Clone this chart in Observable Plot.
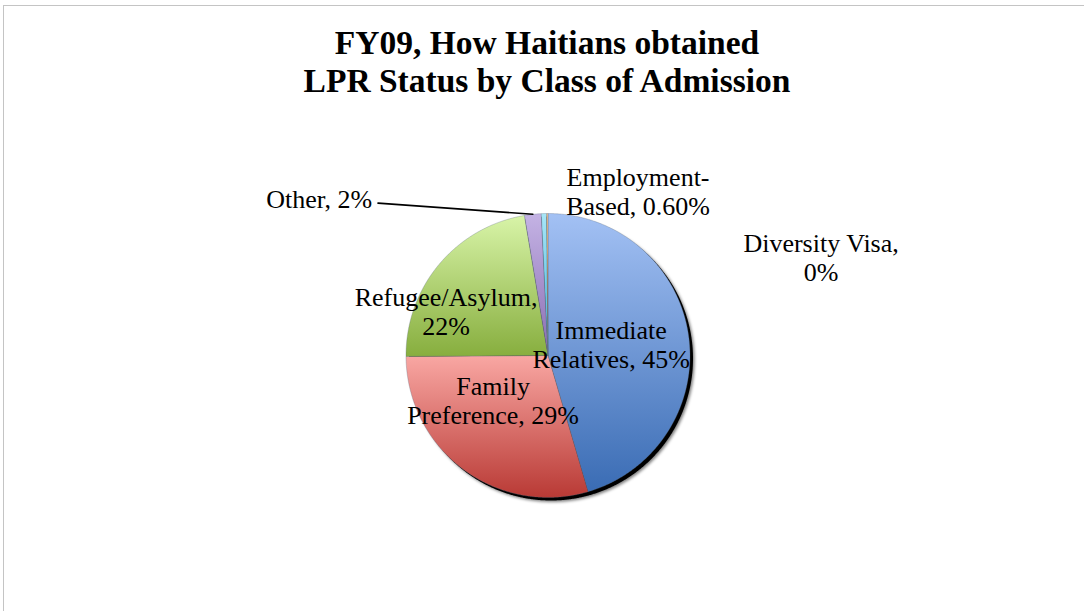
<!DOCTYPE html>
<html><head><meta charset="utf-8">
<script src="https://cdn.jsdelivr.net/npm/d3@7"></script>
<script src="https://cdn.jsdelivr.net/npm/@observablehq/plot@0.6"></script>
<style>
html,body{margin:0;padding:0;background:#fff;overflow:hidden}
#wrap{position:relative;width:1084px;height:611px;overflow:hidden;background:#fff}
#frame{position:absolute;left:3px;top:5px;width:1300px;height:800px;border-left:1.5px solid #c4c4c4;border-top:1.5px solid #c4c4c4}
#plot{position:absolute;left:0;top:0}
#title{position:absolute;left:0;top:24px;width:1094px;text-align:center;font-family:"Liberation Serif",serif;font-weight:bold;font-size:33.5px;line-height:38px;color:#000;z-index:2}
</style>
</head><body>
<div id="wrap"><div id="frame"></div><div id="plot"></div>
<div id="title">FY09, How Haitians obtained<br>LPR Status by Class of Admission</div></div>
<script>
// ---- data ----
const categories = ["Immediate Relatives","Family Preference","Refugee/Asylum","Other","Employment-Based","Diversity Visa"];
const shares = [45.45, 29.45, 22.45, 1.9, 0.6, 0.15];
const pctLabels = ["45%","29%","22%","2%","0.60%","0%"];
const labelText = ["Immediate\nRelatives, 45%","Family\nPreference, 29%","Refugee/Asylum,\n22%","Other, 2%","Employment-\nBased, 0.60%","Diversity Visa,\n0%"];
// gradient colours per slice (top, bottom)
const topColors = ["#a3c1f4","#f9a7a3","#d8f4a8","#c4b3e4","#a6e6f8","#fbc58f"];
const bottomColors = ["#3a6cb4","#b93a35","#87ae3e","#8a6db2","#3fb3d8","#e5842c"];
// label layout (unit-circle coordinates)
const labelLayout = [
  {x: 0.445, y: 0.08, anchor: "middle"},
  {x: -0.387, y: -0.317, anchor: "middle"},
  {x: -0.718, y: 0.31, anchor: "middle"},
  {x: -1.239, y: 1.106, anchor: "end"},
  {x: 0.634, y: 1.158, anchor: "middle"},
  {x: 1.923, y: 0.69, anchor: "middle"}
];
const leaderStart = {x: -1.197, y: 1.073};

const rows = categories.map((c, i) => ({category: c, share: shares[i], label: labelText[i], i}));
const arcs = d3.pie().sort(null).value(d => d.share)(rows);

function arcPoints(a0, a1, withCenter) {
  const pts = [];
  if (withCenter) pts.push({x: 0, y: 0});
  const n = Math.max(2, Math.ceil((a1 - a0) / 0.005));
  for (let k = 0; k <= n; k++) {
    const t = a0 + (a1 - a0) * k / n;
    pts.push({x: Math.sin(t), y: Math.cos(t)});
  }
  if (withCenter) pts.push({x: 0, y: 0});
  return pts;
}

const sliceMarks = arcs.map((a, i) =>
  Plot.line(arcPoints(a.startAngle, a.endAngle, true), {
    x: "x", y: "y", fill: `url(#grad${i})`, stroke: "#5d6b80", strokeOpacity: 0.45, strokeWidth: 0.7, curve: "linear"
  })
);

const labelRows = rows.map((r, i) => ({...r, ...labelLayout[i]}));
const otherArc = arcs[3];
const otherMid = (otherArc.startAngle + otherArc.endAngle) / 2;
const leader = [leaderStart, {x: Math.sin(otherMid), y: Math.cos(otherMid)}];
const circle = arcPoints(0, 2 * Math.PI, false);

const textOpts = {x: "x", y: "y", text: "label", lineHeight: 1.12, fontSize: 26, fontFamily: "Liberation Serif", fill: "black"};

const plot = Plot.plot({
  width: 1084, height: 611, margin: 0,
  x: {domain: [-1, 1], range: [405.5, 689.5], axis: null},
  y: {domain: [-1, 1], range: [497, 213], axis: null},
  style: {background: "transparent", overflow: "visible"},
  marks: [
    Plot.line(circle, {x: "x", y: "y", fill: "black", fillOpacity: 0.5, stroke: "none"}),
    Plot.line(circle, {x: "x", y: "y", fill: "black", stroke: "none"}),
    ...sliceMarks,
    Plot.line(leader, {x: "x", y: "y", stroke: "black", strokeWidth: 1.6}),
    Plot.text(labelRows.filter(d => d.anchor === "middle"), {...textOpts, textAnchor: "middle"}),
    Plot.text(labelRows.filter(d => d.anchor === "end"), {...textOpts, textAnchor: "end"})
  ]
});

const svg = d3.select(plot);
const defs = svg.insert("defs", ":first-child");
topColors.forEach((c, i) => {
  const g = defs.append("linearGradient").attr("id", `grad${i}`).attr("x1", 0).attr("y1", 0).attr("x2", 0).attr("y2", 1);
  g.append("stop").attr("offset", "0%").attr("stop-color", c);
  g.append("stop").attr("offset", "100%").attr("stop-color", bottomColors[i]);
});
const f = defs.append("filter").attr("id", "pieblur").attr("x", "-10%").attr("y", "-10%").attr("width", "120%").attr("height", "120%");
f.append("feGaussianBlur").attr("stdDeviation", 1.5);
const f2 = defs.append("filter").attr("id", "pieblur2").attr("x", "-10%").attr("y", "-10%").attr("width", "120%").attr("height", "120%");
f2.append("feGaussianBlur").attr("stdDeviation", 0.6);
const groups = Array.from(plot.children).filter(n => n.tagName.toLowerCase() === "g");
d3.select(groups[0]).attr("transform", "translate(5,5)").attr("filter", "url(#pieblur)");
d3.select(groups[1]).attr("transform", "translate(3.5,3.5)").attr("filter", "url(#pieblur2)");

document.getElementById("plot").appendChild(plot);
</script>
</body></html>
